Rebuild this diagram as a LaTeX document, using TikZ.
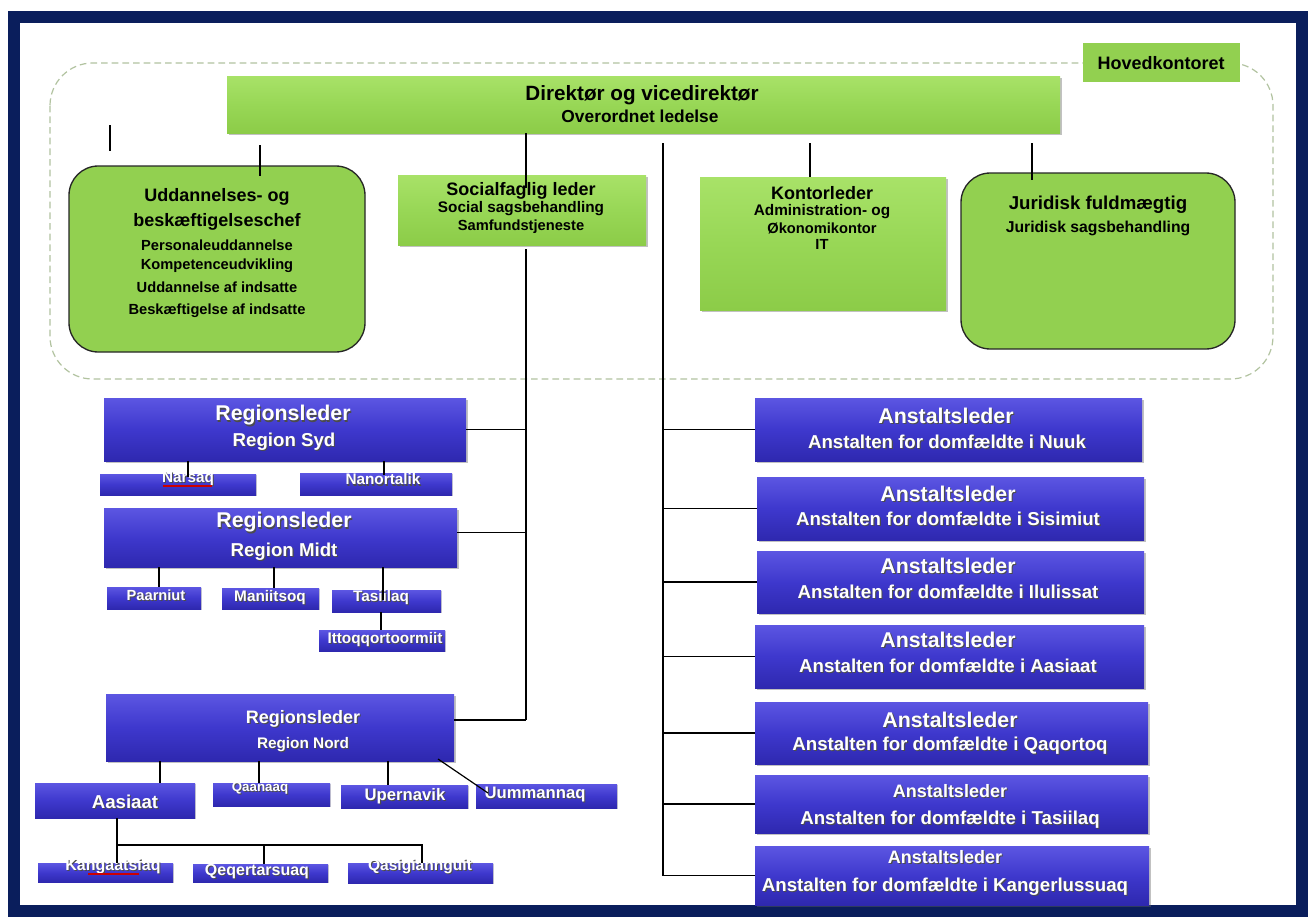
\documentclass[tikz,border=0pt]{standalone}
\usepackage{fontspec}
\setmainfont{Liberation Sans}
\usetikzlibrary{shadows,calc}
\definecolor{navy}{RGB}{10,30,92}
\definecolor{hgreen}{RGB}{146,208,80}
\definecolor{lgtop}{RGB}{168,226,104}
\definecolor{lgmid}{RGB}{152,215,86}
\definecolor{lgbot}{RGB}{140,204,72}
\definecolor{btop}{RGB}{92,86,226}
\definecolor{bmid}{RGB}{62,56,205}
\definecolor{bbot}{RGB}{46,40,175}
\definecolor{dashc}{RGB}{178,195,160}
\newcommand\fz[1]{\fontsize{#1}{#1}\selectfont\bfseries}
\newcommand\wsh[1]{\leavevmode\rlap{\kern0.8pt\raisebox{-0.8pt}{\color{black!70}#1}}{\color{white}#1}}
\newcommand\bx[6]{\node[#1,minimum width={(#4-#2)*0.75pt},minimum height={(#5-#3)*0.75pt}] (#6) at ({(#2+#4)/2},{(#3+#5)/2}) {};}
\begin{document}
\begin{tikzpicture}[x=0.75pt,y=-0.75pt,
  lgbox/.style={inner sep=0pt,outer sep=0pt,top color=lgtop,bottom color=lgbot,middle color=lgmid,
    drop shadow={shadow xshift=1.2pt,shadow yshift=-1.8pt,fill=black!60,opacity=0.4}},
  rgbox/.style={inner sep=0pt,outer sep=0pt,fill=hgreen,draw=black!85,line width=1pt,rounded corners=22pt},
  hkbox/.style={inner sep=0pt,outer sep=0pt,fill=hgreen},
  bbox/.style={inner sep=0pt,outer sep=0pt,top color=btop,bottom color=bbot,middle color=bmid,
    drop shadow={shadow xshift=1.2pt,shadow yshift=-1.8pt,fill=black!60,opacity=0.4}},
  sbox/.style={inner sep=0pt,outer sep=0pt,top color=btop,bottom color=bbot,middle color=bmid,
    drop shadow={shadow xshift=0.8pt,shadow yshift=-1pt,fill=black!60,opacity=0.3}},
  txt/.style={inner sep=0pt,text=black},
  wtxt/.style={inner sep=0pt},
  link/.style={draw=black,line width=0.9pt},
  region/.style={draw=dashc,line width=0.9pt,dash pattern=on 5pt off 3pt,rounded corners=32pt},
  squig/.style={draw=red!80!black,line width=0.8pt}]
\useasboundingbox (0,0) rectangle (1308,917);
\fill[white] (0,0) rectangle (1308,917);
\fill[navy] (8,11) rectangle (1308,917);
\fill[white] (20,23) rectangle (1296,905);
\draw[region] (50,63) rectangle (1273,379);

% head office boxes
\bx{lgbox}{227}{76}{1060}{133}{dir}
\bx{hkbox}{1083}{43}{1240}{82}{hk}
\bx{rgbox}{69}{166}{365}{352}{ud}
\bx{lgbox}{398}{175}{646}{245}{soc}
\bx{lgbox}{700}{177}{946}{310}{ko}
\bx{rgbox}{961}{173}{1235}{349}{ju}

% regions
\bx{bbox}{104}{398}{466}{461}{rs}
\bx{sbox}{100}{474}{256}{495}{nar}
\bx{sbox}{300}{473}{452}{495}{nan}
\bx{bbox}{104}{508}{457}{567}{rm}
\bx{sbox}{107}{587}{201}{609}{pa}
\bx{sbox}{222}{588}{319}{609}{ma}
\bx{sbox}{332}{590}{441}{612}{ta}
\bx{sbox}{319}{630}{445}{651}{it}
\bx{bbox}{106}{694}{454}{761}{rn}
\bx{sbox}{35}{783}{195}{818}{as}
\bx{sbox}{213}{783}{330}{806}{qa}
\bx{sbox}{341}{785}{468}{808}{up}
\bx{sbox}{476}{784}{617}{808}{um}
\bx{sbox}{38}{863}{173}{882}{ka}
\bx{sbox}{193}{864}{328}{882}{qe}
\bx{sbox}{348}{863}{493}{883}{qs}

% institutions
\bx{bbox}{755}{398}{1142}{461}{a1}
\bx{bbox}{757}{477}{1144}{540}{a2}
\bx{bbox}{757}{551}{1144}{613}{a3}
\bx{bbox}{755}{625}{1144}{688}{a4}
\bx{bbox}{755}{702}{1148}{764}{a5}
\bx{bbox}{755}{775}{1148}{833}{a6}
\bx{bbox}{755}{846}{1149}{905}{a7}

% texts green
\node[txt,font=\fz{15.5}] (dirA) at (642,95) {Direktør og vicedirektør};
\node[txt,font=\fz{13}] (dirB) at (640,116) {Overordnet ledelse};
\node[txt,font=\fz{13.5}] (hkA) at (1161,63) {Hovedkontoret};
\node[txt,font=\fz{13.5}] (udA) at (217,197) {Uddannelses- og};
\node[txt,font=\fz{13.5}] (udB) at (217,222) {beskæftigelseschef};
\node[txt,font=\fz{11}] (udC) at (217,245) {Personaleuddannelse};
\node[txt,font=\fz{11}] (udD) at (217,266) {Kompetenceudvikling};
\node[txt,font=\fz{11}] (udE) at (217,287) {Uddannelse af indsatte};
\node[txt,font=\fz{11}] (udF) at (217,311) {Beskæftigelse af indsatte};
\node[txt,font=\fz{13.5}] (socA) at (521,191) {Socialfaglig leder};
\node[txt,font=\fz{11.5}] (socB) at (521,209) {Social sagsbehandling};
\node[txt,font=\fz{11}] (socC) at (521,227) {Samfundstjeneste};
\node[txt,font=\fz{13.5}] (koA) at (822,193) {Kontorleder};
\node[txt,font=\fz{11.5}] (koB) at (822,212) {Administration- og};
\node[txt,font=\fz{11}] (koC) at (822,228) {Økonomikontor};
\node[txt,font=\fz{11}] (koD) at (822,244) {IT};
\node[txt,font=\fz{14}] (juA) at (1098,205) {Juridisk fuldmægtig};
\node[txt,font=\fz{11.8}] (juB) at (1098,228) {Juridisk sagsbehandling};

% texts blue
\node[wtxt,font=\fz{16}] (rsA) at (283,416) {\wsh{Regionsleder}};
\node[wtxt,font=\fz{14}] (rsB) at (284,442) {\wsh{Region Syd}};
\node[wtxt,font=\fz{11.5}] (narA) at (188,479) {\wsh{Narsaq}};
\node[wtxt,font=\fz{11.5}] (nanA) at (383,480) {\wsh{Nanortalik}};
\node[wtxt,font=\fz{16}] (rmA) at (284,523) {\wsh{Regionsleder}};
\node[wtxt,font=\fz{14}] (rmB) at (284,552) {\wsh{Region Midt}};
\node[wtxt,font=\fz{11}] (paA) at (156,596) {\wsh{Paarniut}};
\node[wtxt,font=\fz{11.5}] (maA) at (270,598) {\wsh{Maniitsoq}};
\node[wtxt,font=\fz{11.5}] (taA) at (381,598) {\wsh{Tasiilaq}};
\node[wtxt,font=\fz{11.5}] (itA) at (385,640) {\wsh{Ittoqqortoormiit}};
\node[wtxt,font=\fz{13.5}] (rnA) at (303,719) {\wsh{Regionsleder}};
\node[wtxt,font=\fz{11.5}] (rnB) at (303,745) {\wsh{Region Nord}};
\node[wtxt,font=\fz{14}] (asA) at (125,802) {\wsh{Aasiaat}};
\node[wtxt,font=\fz{10}] (qaA) at (260,789) {\wsh{Qaanaaq}};
\node[wtxt,font=\fz{12.5}] (upA) at (405,797) {\wsh{Upernavik}};
\node[wtxt,font=\fz{12.5}] (umA) at (535,795) {\wsh{Uummannaq}};
\node[wtxt,font=\fz{12}] (kaA) at (113,867) {\wsh{Kangaatsiaq}};
\node[wtxt,font=\fz{12}] (qeA) at (257,872) {\wsh{Qeqertarsuaq}};
\node[wtxt,font=\fz{11.7}] (qsA) at (420,867) {\wsh{Qasigiannguit}};

\node[wtxt,font=\fz{16}] (a1A) at (946,416) {\wsh{Anstaltsleder}};
\node[wtxt,font=\fz{14}] (a1B) at (947,442) {\wsh{Anstalten for domfældte i Nuuk}};
\node[wtxt,font=\fz{16}] (a2A) at (948,494) {\wsh{Anstaltsleder}};
\node[wtxt,font=\fz{14}] (a2B) at (948,519) {\wsh{Anstalten for domfældte i Sisimiut}};
\node[wtxt,font=\fz{16}] (a3A) at (948,566) {\wsh{Anstaltsleder}};
\node[wtxt,font=\fz{14}] (a3B) at (948,592) {\wsh{Anstalten for domfældte i Ilulissat}};
\node[wtxt,font=\fz{16}] (a4A) at (948,640) {\wsh{Anstaltsleder}};
\node[wtxt,font=\fz{14}] (a4B) at (948,666) {\wsh{Anstalten for domfældte i Aasiaat}};
\node[wtxt,font=\fz{16}] (a5A) at (950,720) {\wsh{Anstaltsleder}};
\node[wtxt,font=\fz{14}] (a5B) at (950,746) {\wsh{Anstalten for domfældte i Qaqortoq}};
\node[wtxt,font=\fz{13.5}] (a6A) at (950,792) {\wsh{Anstaltsleder}};
\node[wtxt,font=\fz{14}] (a6B) at (950,820) {\wsh{Anstalten for domfældte i Tasiilaq}};
\node[wtxt,font=\fz{13.5}] (a7A) at (945,858) {\wsh{Anstaltsleder}};
\node[wtxt,font=\fz{14}] (a7B) at (945,887) {\wsh{Anstalten for domfældte i Kangerlussuaq}};

% spell-check underlines
\draw[squig] (163,486) -- (212,486);
\draw[squig] (88,874) -- (139,874);

% connectors
\coordinate (xL) at (526,0);
\coordinate (dR) at (663,143);
\coordinate (udc) at (260,145);
\coordinate (koc) at (810,143);
\coordinate (juc) at (1032,143);
\coordinate (rmc) at ($(rm.east)+(0,-5)$);
\coordinate (rnc) at ($(rn.east)+(0,-7.5)$);
\draw[link] (xL |- dir.south) -- ($(xL |- soc.north)+(0,13)$);
\draw[link] ($(xL |- soc.south)+(0,4)$) -- (xL |- rnc);
\draw[link] (rs.east) -- (xL |- rs.east);
\draw[link] (rmc) -- (xL |- rmc);
\draw[link] (rnc) -- (xL |- rnc);
\draw[link] (udc) -- ($(udc |- ud.north)+(0,10)$);
\draw[link] (koc) -- (koc |- ko.north);
\draw[link] (juc) -- ($(juc |- ju.north)+(0,7)$);
\draw[link] (dR) -- (dR |- a7.west);
\foreach \a in {a1,a2,a3,a4,a5,a6,a7} { \draw[link] (dR |- \a.west) -- (\a.west); }

\coordinate (c1) at (188,0);
\coordinate (c2) at (384,0);
\draw[link] (c1 |- rs.south) -- ($(c1 |- nar.north)+(0,3)$);
\draw[link] (c2 |- rs.south) -- ($(c2 |- nan.north)+(0,2)$);
\coordinate (c3) at (159,0);
\coordinate (c4) at (274,0);
\coordinate (c5) at (383,0);
\coordinate (c6) at (381,0);
\draw[link] (c3 |- rm.south) -- (c3 |- pa.north);
\draw[link] (c4 |- rm.south) -- (c4 |- ma.north);
\draw[link] (c5 |- rm.south) -- ($(c5 |- ta.north)+(0,10)$);
\draw[link] (c6 |- ta.south) -- (c6 |- it.north);
\coordinate (c7) at (160,0);
\coordinate (c8) at (259,0);
\coordinate (c9) at (388,0);
\draw[link] (c7 |- rn.south) -- (c7 |- as.north);
\draw[link] (c8 |- rn.south) -- (c8 |- qa.north);
\draw[link] (c9 |- rn.south) -- (c9 |- up.north);
\draw[link] ($(rn.south east)+(-16,-2)$) -- ($(um.north west)+(12,9)$);
\coordinate (hb) at (117,845);
\coordinate (hbM) at (264,845);
\coordinate (hbR) at (422,845);
\draw[link] (hb |- as.south) -- (hb |- ka.north);
\draw[link] (hb) -- (hbR) -- (hbR |- qs.north);
\draw[link] (hbM) -- (hbM |- qe.north);

% stray mark
\draw[line width=1.8pt] (110,125) -- (110,151);
\end{tikzpicture}
\end{document}
